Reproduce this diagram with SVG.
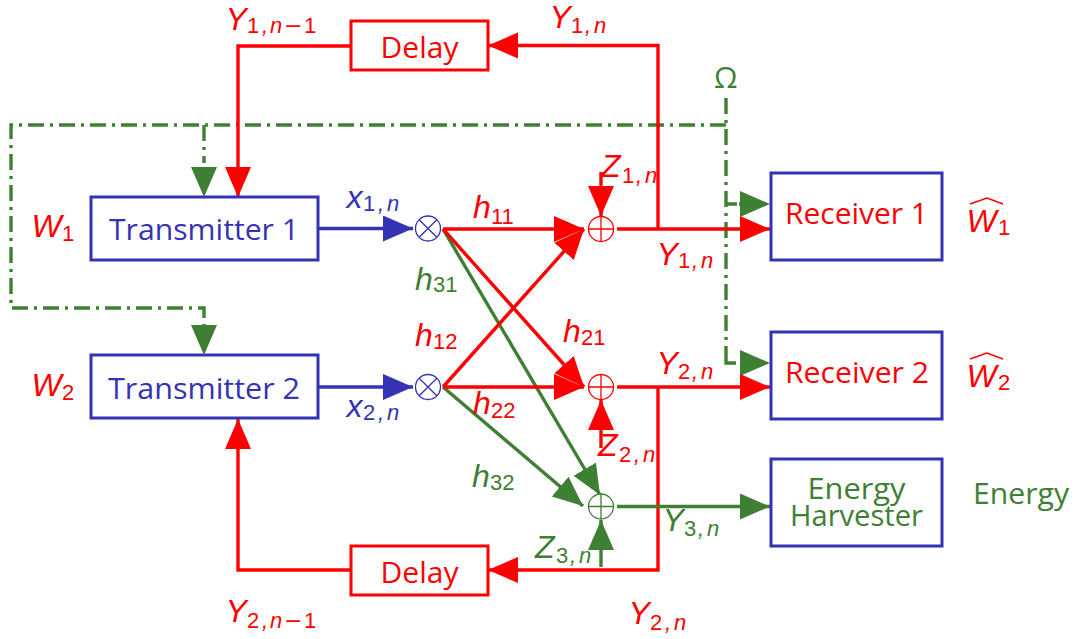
<svg xmlns="http://www.w3.org/2000/svg" width="1077" height="639" viewBox="0 0 1077 639">
<style>
text{font-family:"Open Sans","Liberation Sans",sans-serif}
.l{font-size:30px}
.m{font-family:"Liberation Sans",sans-serif;font-size:32px;font-style:italic}
.s{font-family:"Liberation Sans",sans-serif;font-size:22px;font-style:normal}
.i{font-family:"Liberation Sans",sans-serif;font-size:22px;font-style:italic}
.mn{font-family:"DejaVu Sans",sans-serif;font-size:22px;font-style:normal}
.r{fill:#f00}.g{fill:#3e7f33}.b{fill:#3333b3}
.box{fill:#fff;stroke:#3333b3;stroke-width:3}
.del{fill:#fff;stroke:#f00;stroke-width:3}
.ln{fill:none;stroke-width:3.4}
.sr{stroke:#f00}.sg{stroke:#3e7f33}.sb{stroke:#3333b3}
.dd{fill:none;stroke:#3e7f33;stroke-width:3.4;stroke-dasharray:16 6 3 6}
.c{fill:#fff;stroke-width:1.3}
.hat{fill:none;stroke:#f00;stroke-width:1.5}
</style>
<defs>
<marker id="ar" markerUnits="userSpaceOnUse" markerWidth="32" markerHeight="28" refX="30" refY="13" orient="auto"><polygon points="0,0 30,13 0,26" fill="#f00"/></marker>
<marker id="ag" markerUnits="userSpaceOnUse" markerWidth="32" markerHeight="28" refX="30" refY="13" orient="auto"><polygon points="0,0 30,13 0,26" fill="#3e7f33"/></marker>
<marker id="ab" markerUnits="userSpaceOnUse" markerWidth="32" markerHeight="28" refX="30" refY="13" orient="auto"><polygon points="0,0 30,13 0,26" fill="#3333b3"/></marker>
</defs>
<g id="connectors">
<path class="dd" d="M726 98V354"/>
<path class="ln sg" d="M726 354V363H736"/>
<path class="ln sg" d="M726 204H737M739 204H742"/>
<path class="dd" d="M726 125H11V308H204V325"/>
<path class="dd" d="M204 125V163"/>
<path class="ln sg" style="stroke-width:0" d="M204 322V355" marker-end="url(#ag)"/>
<path class="ln sg" style="stroke-width:0" d="M204 165V197" marker-end="url(#ag)"/>
<path class="ln sg" style="stroke-width:0" d="M740 204H770" marker-end="url(#ag)"/>
<path class="ln sg" style="stroke-width:0" d="M740 363H770" marker-end="url(#ag)"/>
<path class="ln sb" d="M318 228.500H413" marker-end="url(#ab)"/>
<path class="ln sb" d="M318 387H413" marker-end="url(#ab)"/>
<path class="ln sg" d="M443 229L600 495" marker-end="url(#ag)"/>
<path class="ln sg" d="M443 387L583 506" marker-end="url(#ag)"/>
<path class="ln sr" d="M443 229H584" marker-end="url(#ar)"/>
<path class="ln sr" d="M443 387L584 229" marker-end="url(#ar)"/>
<path class="ln sr" d="M443 229L584 387" marker-end="url(#ar)"/>
<path class="ln sr" d="M443 387H584" marker-end="url(#ar)"/>
<path class="ln sr" d="M601 172V216" marker-end="url(#ar)"/>
<path class="ln sr" d="M601 448V400" marker-end="url(#ar)"/>
<path class="ln sr" d="M617 229H770" marker-end="url(#ar)"/>
<path class="ln sr" d="M617 387H770" marker-end="url(#ar)"/>
<path class="ln sr" d="M658 229V45.500H488" marker-end="url(#ar)"/>
<path class="ln sr" d="M658 387V570H488" marker-end="url(#ar)"/>
<path class="ln sr" d="M351 46H238V197" marker-end="url(#ar)"/>
<path class="ln sr" d="M351 570H238V419" marker-end="url(#ar)"/>
<path class="ln sg" d="M601 567V520" marker-end="url(#ag)"/>
<path class="ln sg" d="M617 506.500H770" marker-end="url(#ag)"/>
</g>
<g id="tx1"><rect class="box" x="91" y="197" width="227" height="63"/><text class="l b" x="109" y="240" textLength="190" lengthAdjust="spacingAndGlyphs">Transmitter 1</text></g>
<g id="tx2"><rect class="box" x="91" y="355" width="227" height="63"/><text class="l b" x="108" y="399" textLength="192" lengthAdjust="spacingAndGlyphs">Transmitter 2</text></g>
<g id="rx1"><rect class="box" x="771" y="173" width="171" height="87"/><text class="l r" x="785" y="224" textLength="143" lengthAdjust="spacingAndGlyphs">Receiver 1</text></g>
<g id="rx2"><rect class="box" x="771" y="332" width="171" height="87"/><text class="l r" x="785" y="383" textLength="144" lengthAdjust="spacingAndGlyphs">Receiver 2</text></g>
<g id="eh"><rect class="box" x="771" y="459" width="171" height="87"/><text class="l g" x="856.500" y="499" text-anchor="middle" textLength="98" lengthAdjust="spacingAndGlyphs">Energy</text><text class="l g" x="856.500" y="526" text-anchor="middle" textLength="133" lengthAdjust="spacingAndGlyphs">Harvester</text></g>
<g id="delay1"><rect class="del" x="351" y="21" width="137" height="49"/><text class="l r" x="419.500" y="58" text-anchor="middle" textLength="78" lengthAdjust="spacingAndGlyphs">Delay</text></g>
<g id="delay2"><rect class="del" x="351" y="546" width="137" height="49"/><text class="l r" x="419.500" y="583" text-anchor="middle" textLength="78" lengthAdjust="spacingAndGlyphs">Delay</text></g>
<g id="mul1"><circle class="c sb" cx="428" cy="228.500" r="12.500"/><path class="sb" stroke-width="1.300" d="M419.200 219.700L436.800 237.300M419.200 237.300L436.800 219.700"/></g>
<g id="mul2"><circle class="c sb" cx="428" cy="387" r="12.500"/><path class="sb" stroke-width="1.300" d="M419.200 378.200L436.800 395.800M419.200 395.800L436.800 378.200"/></g>
<g id="add1"><circle class="c sr" cx="601" cy="229" r="12.500"/><path class="sr" stroke-width="1.300" d="M588.500 229H613.500M601 216.500V241.500"/></g>
<g id="add2"><circle class="c sr" cx="601" cy="387" r="12.500"/><path class="sr" stroke-width="1.300" d="M588.500 387H613.500M601 374.500V399.500"/></g>
<g id="add3"><circle class="c sg" cx="601" cy="506.500" r="12.500"/><path class="sg" stroke-width="1.300" d="M588.500 506.500H613.500M601 494V519"/></g>
<g id="labels">
<text class="m r" x="225.500" y="30">Y<tspan class="s" x="247" y="33">1</tspan><tspan class="i" x="262" y="33">,</tspan><tspan class="i" x="270" y="33">n</tspan><tspan class="mn" x="284" y="33">−</tspan><tspan class="s" x="304" y="33">1</tspan></text>
<text class="m r" x="549.500" y="28">Y<tspan class="s" x="571" y="33">1</tspan><tspan class="i" x="585" y="33">,</tspan><tspan class="i" x="594" y="33">n</tspan></text>
<text class="m r" x="225.500" y="622">Y<tspan class="s" x="247" y="628">2</tspan><tspan class="i" x="262" y="628">,</tspan><tspan class="i" x="270" y="628">n</tspan><tspan class="mn" x="284" y="628">−</tspan><tspan class="s" x="304" y="628">1</tspan></text>
<text class="m r" x="628.500" y="624">Y<tspan class="s" x="650" y="630">2</tspan><tspan class="i" x="665" y="630">,</tspan><tspan class="i" x="674" y="630">n</tspan></text>
<text class="m r" x="31.500" y="237">W<tspan class="s" x="62" y="241">1</tspan></text>
<text class="m r" x="31.500" y="396">W<tspan class="s" x="62" y="400">2</tspan></text>
<text class="m b" x="346.500" y="208">x<tspan class="s" x="363" y="211">1</tspan><tspan class="i" x="378" y="211">,</tspan><tspan class="i" x="387" y="211">n</tspan></text>
<text class="m b" x="346.500" y="417">x<tspan class="s" x="363" y="420">2</tspan><tspan class="i" x="378" y="420">,</tspan><tspan class="i" x="387" y="420">n</tspan></text>
<text class="m r" x="473" y="218">h<tspan class="s" x="491" y="224">11</tspan></text>
<text class="m g" x="415" y="290">h<tspan class="s" x="433" y="292">31</tspan></text>
<text class="m r" x="415" y="346">h<tspan class="s" x="433" y="349">12</tspan></text>
<text class="m r" x="563" y="342">h<tspan class="s" x="581" y="345">21</tspan></text>
<text class="m r" x="473" y="414">h<tspan class="s" x="491" y="418">22</tspan></text>
<text class="m g" x="472" y="487">h<tspan class="s" x="490" y="490">32</tspan></text>
<text class="m r" x="601" y="177">Z<tspan class="s" x="622" y="183">1</tspan><tspan class="i" x="636" y="183">,</tspan><tspan class="i" x="645" y="183">n</tspan></text>
<text class="m r" x="598" y="456">Z<tspan class="s" x="619" y="462">2</tspan><tspan class="i" x="634" y="462">,</tspan><tspan class="i" x="643" y="462">n</tspan></text>
<text class="m g" x="535" y="558">Z<tspan class="s" x="556" y="563">3</tspan><tspan class="i" x="570" y="563">,</tspan><tspan class="i" x="579" y="563">n</tspan></text>
<text class="m r" x="656.500" y="265">Y<tspan class="s" x="678" y="268">1</tspan><tspan class="i" x="692" y="268">,</tspan><tspan class="i" x="701" y="268">n</tspan></text>
<text class="m r" x="656.500" y="374">Y<tspan class="s" x="678" y="379">2</tspan><tspan class="i" x="692" y="379">,</tspan><tspan class="i" x="701" y="379">n</tspan></text>
<text class="m g" x="662.500" y="531">Y<tspan class="s" x="684" y="536">3</tspan><tspan class="i" x="698" y="536">,</tspan><tspan class="i" x="707" y="536">n</tspan></text>
<text class="l g" x="714" y="88">Ω</text>
<text class="m r" x="966.500" y="232">W<tspan class="s" x="998" y="235">1</tspan></text>
<path class="hat" d="M970 204L987 198L1003 204"/>
<text class="m r" x="966.500" y="387">W<tspan class="s" x="998" y="390">2</tspan></text>
<path class="hat" d="M970 359L987 353L1003 359"/>
<text class="l g" x="973" y="504" textLength="96" lengthAdjust="spacingAndGlyphs">Energy</text>
</g>
</svg>
